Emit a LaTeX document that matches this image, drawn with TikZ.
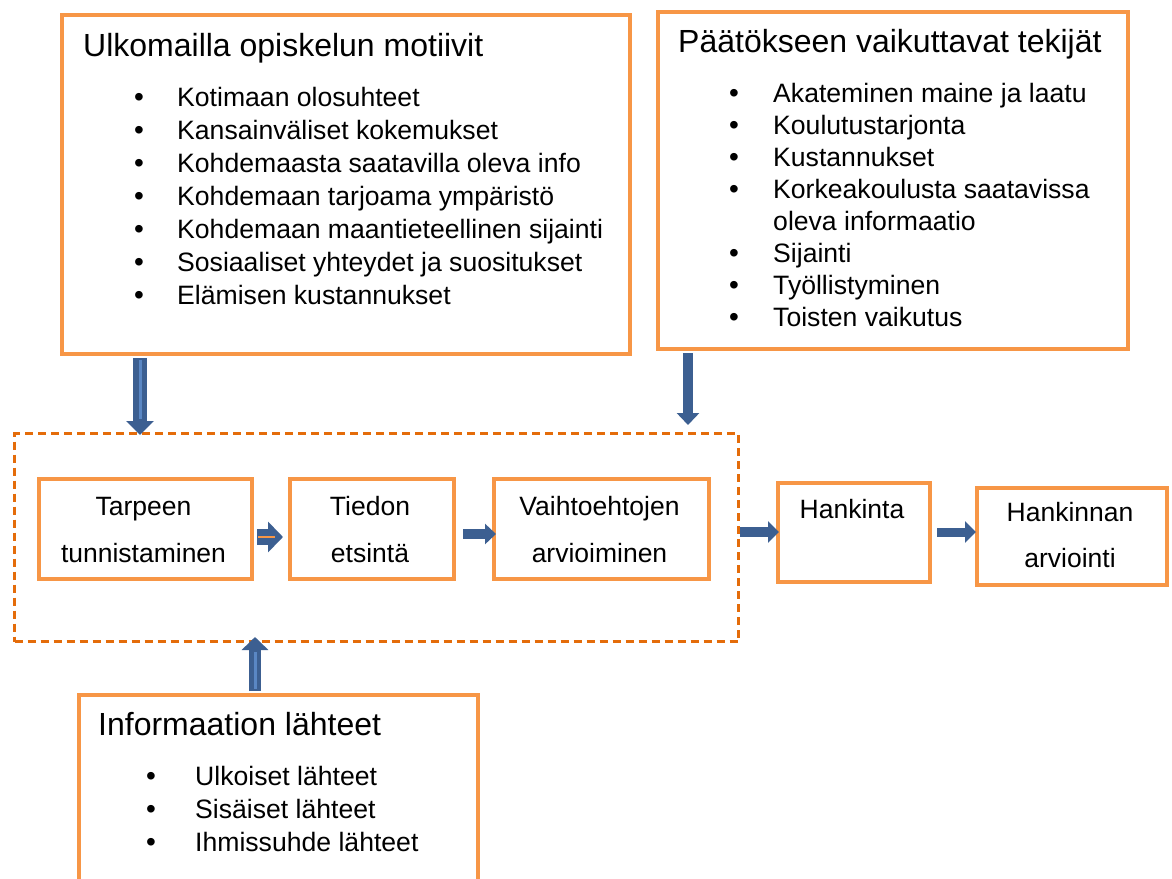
\documentclass[tikz,border=0pt]{standalone}
\usepackage{fontspec}
\setmainfont{Liberation Sans}
\usetikzlibrary{arrows.meta}
\definecolor{boxorange}{HTML}{F79646}
\definecolor{dashorange}{HTML}{E46C0A}
\definecolor{arrowblue}{HTML}{3C5F91}
\definecolor{stripeblue}{HTML}{5A87C4}
\tikzset{
  box/.style={draw=boxorange, line width=4pt, inner sep=0pt, anchor=north west},
  pbox/.style={draw=dashorange, line width=3pt, dash pattern=on 8pt off 5pt, inner sep=0pt, anchor=north west},
  titletext/.style={anchor=base west, inner sep=0pt, font=\fontsize{32}{38}\selectfont},
  itemtext/.style={anchor=base west, inner sep=0pt, font=\fontsize{26.6}{31}\selectfont},
  dottext/.style={anchor=base, inner sep=0pt, font=\fontsize{28}{31}\selectfont},
  lbl/.style={anchor=base, inner sep=0pt, font=\fontsize{26.5}{31}\selectfont},
  bigarrow/.style n args={3}{draw=arrowblue, line width=#1, line cap=butt, -{Triangle[width=#2, length=#3]}},
  stripe/.style={draw=stripeblue, line width=3pt},
}
\begin{document}
\begin{tikzpicture}[x=1pt, y=-1pt]
\clip (0,0) rectangle (1172,878);
\fill[white] (0,0) rectangle (1172,878);

% tip coordinates
\coordinate (t4) at (283,537);
\coordinate (t5) at (496,534);
\coordinate (t6) at (779,532);
\coordinate (t7) at (976,532);

% boxes
\node[box, minimum width=568pt, minimum height=339pt] (motiv) at (60,13) {};
\node[box, minimum width=470pt, minimum height=337pt] (paatos) at (656,10) {};
\node[pbox, minimum width=724pt, minimum height=208pt] (proc) at (13,432) {};
\node[box, minimum width=213pt, minimum height=100pt] (tarve) at (37,477) {};
\node[box, minimum width=164pt, minimum height=100pt] (tieto) at (288,477) {};
\node[box, minimum width=215pt, minimum height=100pt] (vaiht) at (492,477) {};
\node[box, minimum width=152pt, minimum height=99pt] (hank) at (776,481) {};
\node[box, minimum width=190pt, minimum height=97pt] (arv) at (975,486) {};
\node[box, minimum width=399pt, minimum height=230pt] (info) at (77,693) {};

% small arrows between process boxes
\draw[bigarrow={16pt}{30pt}{15pt}] ([xshift=3pt]tarve.east |- t4) -- (t4);
\coordinate (o1) at (258,537);
\coordinate (o2) at (275,537);
\draw[boxorange, line width=2pt] (o1) -- (o2);
\draw[bigarrow={10pt}{20pt}{11pt}] ([xshift=7pt]tieto.east |- t5) -- (t5);
\draw[bigarrow={10pt}{21pt}{11pt}] (proc.east |- t6) -- (t6);
\draw[bigarrow={9pt}{21pt}{11pt}] ([xshift=5pt]hank.east |- t7) -- (t7);

% big vertical arrows
\coordinate (t1) at (140,435);
\coordinate (s1) at (140,419);
\draw[bigarrow={14pt}{27pt}{14pt}] ([yshift=-2pt]motiv.south -| t1) -- (t1);
\draw[stripe] ([yshift=-4pt]motiv.south -| t1) -- (s1);
\coordinate (t2) at (688,425);
\draw[bigarrow={10pt}{22pt}{12pt}] ([yshift=-2pt]paatos.south -| t2) -- (t2);
\coordinate (t3) at (255,637);
\coordinate (s3) at (255,652);
\draw[bigarrow={12pt}{26pt}{13pt}] ([yshift=2pt]info.north -| t3) -- (t3);
\draw[stripe] ([yshift=4pt]info.north -| t3) -- (s3);

% texts: motives
\node[titletext] (motivT) at (83,56) {Ulkomailla opiskelun motiivit};
\foreach \i/\t in {0/Kotimaan olosuhteet, 1/Kansainväliset kokemukset, 2/Kohdemaasta saatavilla oleva info, 3/Kohdemaan tarjoama ympäristö, 4/Kohdemaan maantieteellinen sijainti, 5/Sosiaaliset yhteydet ja suositukset, 6/Elämisen kustannukset}{
  \node[dottext] (md\i) at (139,106+33*\i) {•};
  \node[itemtext] (mi\i) at (177,106+33*\i) {\t};
}

% texts: decision factors
\node[titletext] (paatosT) at (678,52) {Päätökseen vaikuttavat tekijät};
\foreach \i/\t in {0/Akateminen maine ja laatu, 1/Koulutustarjonta, 2/Kustannukset, 3/Korkeakoulusta saatavissa, 5/Sijainti, 6/Työllistyminen, 7/Toisten vaikutus}{
  \node[dottext] (pd\i) at (734,102+32*\i) {•};
  \node[itemtext] (pi\i) at (773,102+32*\i) {\t};
}
\node[itemtext] (pi4) at (773,230) {oleva informaatio};

% texts: information sources
\node[titletext] (infoT) at (98,735) {Informaation lähteet};
\foreach \i/\t in {0/Ulkoiset lähteet, 1/Sisäiset lähteet, 2/Ihmissuhde lähteet}{
  \node[dottext] (id\i) at (151,785+33*\i) {•};
  \node[itemtext] (ii\i) at (195,785+33*\i) {\t};
}

% process labels
\node[lbl] (tarve1) at (143.5,515) {Tarpeen};
\node[lbl] (tarve2) at (143.5,562) {tunnistaminen};
\node[lbl] (tieto1) at (370,515) {Tiedon};
\node[lbl] (tieto2) at (370,562) {etsintä};
\node[lbl] (vaiht1) at (599.5,515) {Vaihtoehtojen};
\node[lbl] (vaiht2) at (599.5,562) {arvioiminen};
\node[lbl] (hank1) at (852,518) {Hankinta};
\node[lbl] (arv1) at (1070,521) {Hankinnan};
\node[lbl] (arv2) at (1070,567) {arviointi};
\end{tikzpicture}
\end{document}
